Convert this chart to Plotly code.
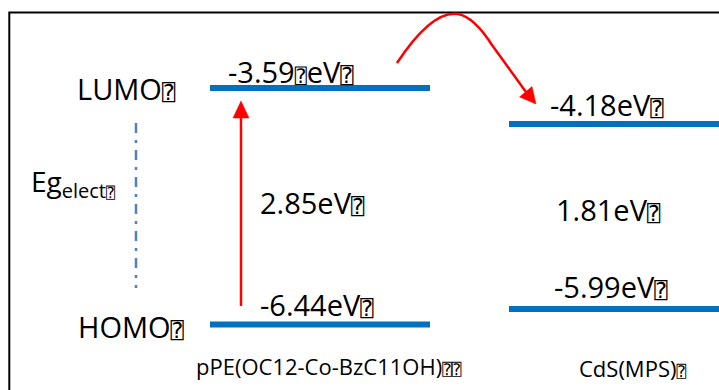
import plotly.graph_objects as go

# ---- data ----
materials = ["pPE(OC12-Co-BzC11OH)", "CdS(MPS)"]
lumo = [-3.59, -4.18]          # eV
homo = [-6.44, -5.99]          # eV
gap = [2.85, 1.81]             # eV
level_names = ["LUMO", "HOMO"]
gap_name = ["Eg", "elect"]

FONT = "Open Sans"
BLUE = "#0070C0"
RED = "#FF0000"


def box(sz):
    return f'<span style="font-family:DejaVu Sans Mono;font-size:{sz}px">\u2370</span>'


fig = go.Figure()

# level x-extents (layout) and which y axis each material uses
level_x = [(210, 430), (509, 730)]
yrefs = ["y", "y2"]

for i, m in enumerate(materials):
    x0, x1 = level_x[i]
    for v in (lumo[i], homo[i]):
        fig.add_trace(go.Scatter(
            x=[x0, x1], y=[v, v], mode="lines", yaxis=yrefs[i],
            line=dict(color=BLUE, width=6), hoverinfo="skip", showlegend=False))

# empty trace on the pixel overlay axis
fig.add_trace(go.Scatter(x=[], y=[], yaxis="y3", showlegend=False, hoverinfo="skip"))

ann = []


def add_text(text, x, y, yref, size, yshift=0):
    ann.append(dict(text=text, x=x, y=y, xref="x", yref=yref, xanchor="left",
                    yanchor="middle", showarrow=False, yshift=yshift,
                    font=dict(family=FONT, size=size, color="#000000")))


# pPE labels
add_text(f"{lumo[0]:.2f}{box(20)}eV{box(22)}", 226, lumo[0], "y", 29, 17)
add_text(f"{homo[0]:.2f}eV{box(22)}", 258, homo[0], "y", 29, 20.5)
add_text(f"{gap[0]:.2f}eV{box(22)}", 258, (lumo[0] + homo[0]) / 2, "y", 29, 3.3)
# CdS labels
add_text(f"{lumo[1]:.2f}eV{box(22)}", 548, lumo[1], "y2", 29, 19.3)
add_text(f"{gap[1]:.2f}eV{box(22)}", 554, (lumo[1] + homo[1]) / 2, "y2", 29, 7.5)
add_text(f"{homo[1]:.2f}eV{box(22)}", 552, homo[1], "y2", 29, 23)
# level names
add_text(f"{level_names[0]}{box(22)}", 75, lumo[0], "y", 29, -0.5)
add_text(f"{level_names[1]}{box(22)}", 76, homo[0], "y", 29, -1.5)
# gap symbol
add_text(f'{gap_name[0]}<sub><span style="font-size:20px">{gap_name[1]}</span>{box(15)}</sub>',
         29, 183, "y3", 28)
# material names
add_text(f"{materials[0]}{box(16)}{box(16)}", 194, 365.5, "y3", 22)
add_text(f"{materials[1]}{box(16)}", 577, 368, "y3", 22)

shapes = [
    # frame
    dict(type="rect", xref="x", yref="y3", x0=9.3, y0=12.5, x1=740, y1=400,
         line=dict(color="#000000", width=2)),
    # dash-dot gap marker
    dict(type="line", xref="x", yref="y3", x0=136, x1=136, y0=123, y1=288,
         line=dict(color="#4F81BD", width=2.5, dash="10px,7px,3px,7px")),
    # vertical excitation arrow
    dict(type="line", xref="x", yref="y3", x0=241, x1=241, y0=306, y1=114,
         line=dict(color=RED, width=2.5)),
    dict(type="path", xref="x", yref="y3", path="M 241,101 L 233,118 L 249,118 Z",
         fillcolor=RED, line=dict(color=RED, width=0.5)),
    # curved transfer arrow
    dict(type="path", xref="x", yref="y3",
         path="M 397,63 Q 432,10 458,14 Q 474,17 492,45 L 526,92",
         line=dict(color=RED, width=2.5)),
    dict(type="path", xref="x", yref="y3",
         path="M 536,104 L 519.5,97 L 532,86.5 Z",
         fillcolor=RED, line=dict(color=RED, width=0.5)),
]

fig.update_layout(
    width=719, height=390,
    margin=dict(l=0, r=0, t=0, b=0),
    paper_bgcolor="white", plot_bgcolor="white",
    xaxis=dict(range=[0, 719], visible=False, fixedrange=True),
    yaxis=dict(range=[-7.2294, -2.5295], visible=False, fixedrange=True),
    yaxis2=dict(range=[-6.7825, -2.9668], visible=False, overlaying="y", fixedrange=True),
    yaxis3=dict(range=[390, 0], visible=False, overlaying="y", fixedrange=True),
    annotations=ann,
    shapes=shapes,
    showlegend=False,
)

# remove the default 8px page margin so the figure fills the window exactly
fig.write_html(
    "out.html",
    config={"displayModeBar": False},
    post_script="document.body.style.margin='0';document.body.style.overflow='hidden';",
)
